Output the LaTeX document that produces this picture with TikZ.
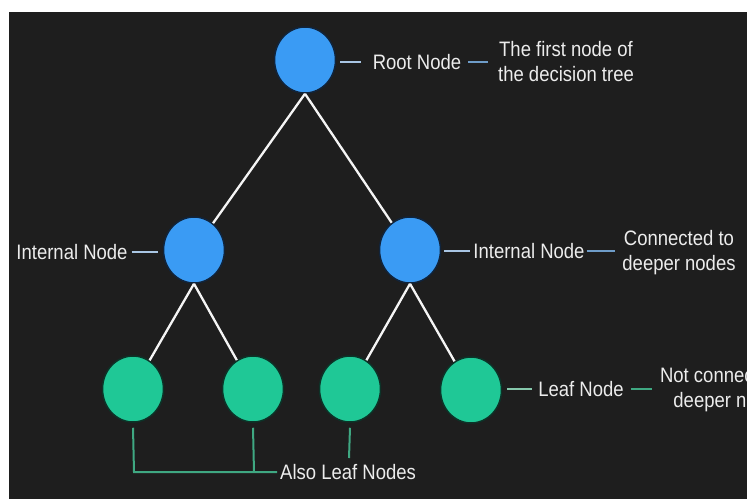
\documentclass[tikz,border=0pt]{standalone}
\usepackage{fontspec}
\setmainfont{Liberation Sans}
\usetikzlibrary{shapes.geometric}
\definecolor{bg}{HTML}{1E1E1E}
\definecolor{nblue}{HTML}{3A9BF4}
\definecolor{nblueo}{HTML}{10243C}
\definecolor{ngreen}{HTML}{1FC896}
\definecolor{ngreeno}{HTML}{0C3328}
\definecolor{lblue}{HTML}{A9C6E4}
\definecolor{dblue}{HTML}{6E9CC8}
\definecolor{lgreen}{HTML}{86C8AC}
\definecolor{dgreen}{HTML}{3FA882}
\definecolor{txt}{HTML}{ECECEC}
\newcommand\vstretch[1]{\scalebox{1}[1.13]{#1}}
\tikzset{
  bluenode/.style={ellipse, fill=nblue, draw=nblueo, line width=1.5pt, minimum width=61pt, minimum height=66pt, inner sep=0pt},
  greennode/.style={ellipse, fill=ngreen, draw=ngreeno, line width=1.5pt, minimum width=61pt, minimum height=66pt, inner sep=0pt},
  edgeline/.style={draw=white!92!gray, line width=2.3pt},
  lbl/.style={text=txt, font=\fontsize{18.5}{25}\selectfont, inner sep=0pt, align=center},
  bline/.style={draw=lblue, line width=2.3pt},
  bdash/.style={draw=dblue, line width=2.3pt},
  gline/.style={draw=lgreen, line width=2.3pt},
  gdash/.style={draw=dgreen, line width=2.3pt},
  bracket/.style={draw=dgreen, line width=2pt}
}
\begin{document}
\begin{tikzpicture}[x=1pt, y=-1pt]
\useasboundingbox (0,0) rectangle (747,499);
\fill[white] (0,0) rectangle (747,499);
\fill[bg] (9,12) rectangle (747,499);
\begin{scope}
\clip (9,12) rectangle (747,499);
% tree nodes
\node[bluenode] (root) at (305,60) {};
\node[bluenode] (il) at (194,250) {};
\node[bluenode] (ir) at (410,250) {};
\node[greennode] (l1) at (133,389) {};
\node[greennode] (l2) at (253,389) {};
\node[greennode] (l3) at (350,389) {};
\node[greennode] (l4) at (471,390) {};
% edges
\draw[edgeline] (root.south) -- (il);
\draw[edgeline] (root.south) -- (ir);
\draw[edgeline] (il.south) -- (l1);
\draw[edgeline] (il.south) -- (l2);
\draw[edgeline] (ir.south) -- (l3);
\draw[edgeline] (ir.south) -- (l4);
% root labels
\node[lbl] (rootlbl) at (417,62) {\vstretch{Root Node}};
\node[lbl] (rootdesc) at (566,62) {\vstretch{The first node of}\\\vstretch{the decision tree}};
\draw[bline] ([xshift=4pt]root.east |- rootlbl.west) -- ([xshift=-12pt]rootlbl.west);
\draw[bdash] ([xshift=7pt]rootlbl.east) -- ([xshift=-10pt]rootdesc.west);
% left internal label
\node[lbl] (illbl) at (72,252) {\vstretch{Internal Node}};
\draw[bline] ([xshift=4pt]illbl.east) -- ([xshift=-5pt]il.west |- illbl.east);
% right internal labels
\node[lbl] (irlbl) at (529,251) {\vstretch{Internal Node}};
\node[lbl] (irdesc) at (679,253) {\vstretch{Connected to}\\\vstretch{deeper nodes}};
\draw[bline] ([xshift=3pt]ir.east |- irlbl.west) -- ([xshift=-3pt]irlbl.west);
\draw[bdash] ([xshift=2pt]irlbl.east) -- ([xshift=-7pt]irdesc.west |- irlbl.east);
% leaf labels
\node[lbl] (l4lbl) at (581,389) {\vstretch{Leaf Node}};
\node[lbl] (l4desc) at (730,390) {\vstretch{Not connected to}\\\vstretch{deeper nodes}};
\draw[gline] ([xshift=5pt]l4.east |- l4lbl.west) -- ([xshift=-6pt]l4lbl.west);
\draw[gdash] ([xshift=7pt]l4lbl.east) -- ([xshift=-8pt]l4desc.west |- l4lbl.east);
% also leaf nodes bracket
\node[lbl, anchor=west] (alsolbl) at (280,472) {\vstretch{Also Leaf Nodes}};
\coordinate (b1) at (134,472);
\coordinate (b2) at (254,472);
\coordinate (b3) at (349,458);
\draw[bracket] ([yshift=-5pt]l1.south) -- (b1) -- ([xshift=-3pt]alsolbl.west);
\draw[bracket] ([yshift=-5pt]l2.south) -- (b2);
\draw[bracket] ([yshift=-5pt]l3.south) -- (b3);
\end{scope}
\end{tikzpicture}
\end{document}
